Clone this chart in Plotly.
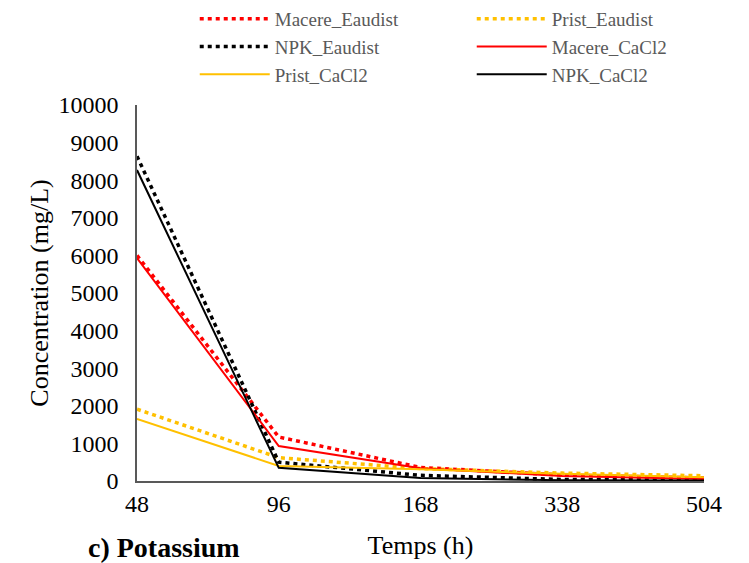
import plotly.graph_objects as go

times = ["48", "96", "168", "338", "504"]
macere_eaudist = [6000, 1170, 360, 160, 80]
prist_eaudist = [1910, 620, 330, 210, 140]
npk_eaudist = [8640, 500, 150, 40, 20]
macere_cacl2 = [5930, 930, 340, 130, 50]
prist_cacl2 = [1650, 400, 310, 190, 100]
npk_cacl2 = [8270, 350, 80, 20, 10]

RED = "#FF0000"
YEL = "#FFC000"
BLK = "#000000"
DOT = "4px,4px"

series = [
    ("Macere_Eaudist", macere_eaudist, RED, DOT, 3.5),
    ("Prist_Eaudist", prist_eaudist, YEL, DOT, 3.5),
    ("NPK_Eaudist", npk_eaudist, BLK, DOT, 3.5),
    ("Macere_CaCl2", macere_cacl2, RED, "solid", 2),
    ("Prist_CaCl2", prist_cacl2, YEL, "solid", 2),
    ("NPK_CaCl2", npk_cacl2, BLK, "solid", 2),
]

fig = go.Figure()
for name, vals, col, dash, w in series:
    fig.add_trace(go.Scatter(x=times, y=vals, mode="lines", name=name,
                             line=dict(color=col, dash=dash, width=w)))

font_family = "Liberation Serif, Times New Roman, serif"
fig.update_layout(
    width=749, height=563,
    margin=dict(l=137, r=45, t=105, b=82, autoexpand=False),
    paper_bgcolor="white", plot_bgcolor="white",
    font=dict(family=font_family, color="black", size=24),
    legend=dict(orientation="h", xref="container", yref="container",
                x=0.26, xanchor="left", y=1.0, yanchor="top",
                entrywidth=192, entrywidthmode="pixels",
                font=dict(size=19, color="#595959"), traceorder="normal",
                tracegroupgap=0, itemwidth=70, bgcolor="rgba(0,0,0,0)"),
    xaxis=dict(type="category", range=[0, 4], showline=True, linecolor="#595959",
               linewidth=1.5, showgrid=False, ticks="", zeroline=False,
               title=dict(text="Temps (h)", font=dict(size=26), standoff=20),
               tickfont=dict(size=24)),
    yaxis=dict(range=[0, 10000], dtick=1000, tickformat="d", showline=True,
               linecolor="#595959", linewidth=1.5, showgrid=False, ticks="",
               zeroline=False, ticklabelstandoff=12,
               title=dict(text="Concentration (mg/L)", font=dict(size=26), standoff=2),
               tickfont=dict(size=24)),
    annotations=[dict(text="<b>c) Potassium</b>", xref="paper", yref="paper",
                      x=-0.09, y=-0.178, xanchor="left", yanchor="middle",
                      showarrow=False, font=dict(size=28, color="black"))],
)

fig.write_html("out.html")
